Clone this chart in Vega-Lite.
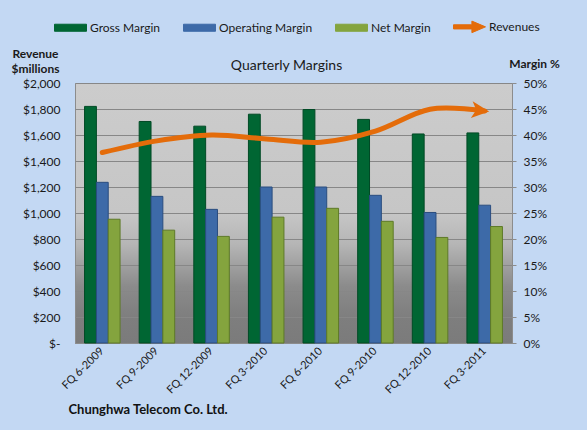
{
  "$schema": "https://vega.github.io/schema/vega-lite/v6.json",
  "width": 437,
  "height": 260,
  "autosize": {"type": "none"},
  "padding": {"left": 75, "top": 83, "right": 75, "bottom": 87},
  "background": "#c3d8f3",
  "config": {
    "font": "Lato",
    "view": {
      "stroke": "#8c8c8c",
      "strokeWidth": 1,
      "fill": {
        "gradient": "linear", "x1": 0, "y1": 0, "x2": 0, "y2": 1,
        "stops": [
          {"offset": 0, "color": "#cccccc"},
          {"offset": 0.5, "color": "#c6c6c6"},
          {"offset": 0.62, "color": "#b5b5b5"},
          {"offset": 0.78, "color": "#8b8b8b"},
          {"offset": 0.9, "color": "#7e7e7e"},
          {"offset": 1, "color": "#7b7b7b"}
        ]
      }
    },
    "axis": {
      "labelFont": "Lato",
      "labelColor": "#1a1a1a",
      "titleFont": "Lato",
      "titleColor": "#1a1a1a",
      "domainColor": "#8c8c8c",
      "tickColor": "#8c8c8c"
    }
  },
  "data": {
    "values": [
      {"quarter": "FQ 6-2009", "Gross Margin": 45.5, "Operating Margin": 30.9, "Net Margin": 23.8, "revenue": 1465},
      {"quarter": "FQ 9-2009", "Gross Margin": 42.6, "Operating Margin": 28.2, "Net Margin": 21.7, "revenue": 1555},
      {"quarter": "FQ 12-2009", "Gross Margin": 41.7, "Operating Margin": 25.7, "Net Margin": 20.5, "revenue": 1600},
      {"quarter": "FQ 3-2010", "Gross Margin": 44.0, "Operating Margin": 30.0, "Net Margin": 24.2, "revenue": 1570},
      {"quarter": "FQ 6-2010", "Gross Margin": 44.9, "Operating Margin": 30.0, "Net Margin": 25.9, "revenue": 1545},
      {"quarter": "FQ 9-2010", "Gross Margin": 43.0, "Operating Margin": 28.4, "Net Margin": 23.4, "revenue": 1630},
      {"quarter": "FQ 12-2010", "Gross Margin": 40.2, "Operating Margin": 25.1, "Net Margin": 20.3, "revenue": 1798},
      {"quarter": "FQ 3-2011", "Gross Margin": 40.4, "Operating Margin": 26.5, "Net Margin": 22.4, "revenue": 1785}
    ]
  },
  "layer": [
    {
      "transform": [{"fold": ["Gross Margin", "Operating Margin", "Net Margin"], "as": ["series", "margin"]}],
      "mark": {"type": "bar", "strokeWidth": 1},
      "encoding": {
        "x": {
          "field": "quarter", "type": "nominal", "sort": null,
          "scale": {"paddingInner": 0.35, "paddingOuter": 0.175},
          "axis": {
            "orient": "bottom", "labelAngle": -45, "labelAlign": "right", "labelBaseline": "middle",
            "labelFontSize": 11, "labelPadding": 6, "ticks": false, "domain": true,
            "title": "Chunghwa Telecom Co. Ltd.", "titleFontSize": 13, "titleFontWeight": "bold",
            "titleAngle": 0, "titleAlign": "left", "titleBaseline": "alphabetic",
            "titleX": -7, "titleY": 70, "titleColor": "#111111"
          }
        },
        "xOffset": {"field": "series", "type": "nominal", "sort": ["Gross Margin", "Operating Margin", "Net Margin"], "scale": {"paddingInner": 0, "paddingOuter": 0}},
        "y": {
          "field": "margin", "type": "quantitative",
          "scale": {"domain": [0, 50], "nice": false},
          "axis": {
            "orient": "right", "values": [0, 5, 10, 15, 20, 25, 30, 35, 40, 45, 50],
            "labelExpr": "datum.value + '%'", "labelFontSize": 12, "grid": false,
            "ticks": true, "tickSize": 4, "labelPadding": 7, "domain": true,
            "title": "Margin %", "titleFontSize": 12, "titleFontWeight": "bold",
            "titleAngle": 0, "titleAlign": "center", "titleBaseline": "alphabetic",
            "titleX": 22, "titleY": -16
          }
        },
        "color": {
          "field": "series", "type": "nominal",
          "scale": {
            "domain": ["Gross Margin", "Operating Margin", "Net Margin", "Revenues"],
            "range": ["#006633", "#3d6aa8", "#84a43e", "#e46c0a"]
          },
          "legend": {
            "orient": "none", "legendX": -21, "legendY": -73, "direction": "horizontal",
            "title": null, "symbolSize": 1024, "labelFont": "Lato", "labelFontSize": 12,
            "labelColor": "#1a1a1a", "labelOffset": 3, "columnPadding": 20,
            "encode": {
              "symbols": {
                "update": {
                  "shape": {"signal": "datum.value === 'Revenues' ? 'M-1,-0.13H0.15V-0.36L1,0L0.15,0.36V0.13H-1Z' : 'M-1,-0.22H1V0.22H-1Z'"},
                  "fill": {"signal": "datum.value === 'Gross Margin' ? '#006633' : datum.value === 'Operating Margin' ? '#3d6aa8' : datum.value === 'Net Margin' ? '#84a43e' : '#e46c0a'"},
                  "stroke": {"signal": "datum.value === 'Gross Margin' ? '#004a25' : datum.value === 'Operating Margin' ? '#2a4d7f' : datum.value === 'Net Margin' ? '#5e7a28' : '#e46c0a'"},
                  "strokeWidth": {"value": 1},
                  "opacity": {"value": 1},
                  "fillOpacity": {"value": 1}
                }
              }
            }
          }
        },
        "stroke": {
          "field": "series", "type": "nominal",
          "scale": {
            "domain": ["Gross Margin", "Operating Margin", "Net Margin"],
            "range": ["#004a25", "#2a4d7f", "#5e7a28"]
          },
          "legend": null
        }
      }
    },
    {
      "encoding": {
        "x": {
          "field": "quarter", "type": "nominal", "sort": null,
          "axis": {
            "orient": "top", "labels": false, "ticks": false, "domain": false, "grid": false,
            "title": "Quarterly Margins", "titleFontSize": 14, "titleFontWeight": "normal",
            "titleAngle": 0, "titleAlign": "center", "titleBaseline": "alphabetic",
            "titleX": 211, "titleY": -14, "titleColor": "#1a1a1a"
          }
        },
        "y": {
          "field": "revenue", "type": "quantitative",
          "scale": {"domain": [0, 2000], "nice": false},
          "axis": {
            "orient": "left", "values": [0, 200, 400, 600, 800, 1000, 1200, 1400, 1600, 1800, 2000],
            "labelExpr": "datum.value === 0 ? '$-' : '$' + format(datum.value, ',')",
            "labelFontSize": 12, "ticks": false, "labelPadding": 15, "domain": false,
            "grid": true, "gridColor": "#878787", "gridWidth": 1, "gridOpacity": 1,
            "title": ["Revenue", "$millions"], "titleFontSize": 12, "titleFontWeight": "bold",
            "titleAngle": 0, "titleAlign": "center", "titleBaseline": "alphabetic",
            "titleLineHeight": 15, "titleX": -40, "titleY": -26
          }
        }
      },
      "layer": [
        {
          "mark": {"type": "line", "interpolate": "cardinal", "strokeWidth": 5, "strokeCap": "round"},
          "encoding": {"color": {"datum": "Revenues"}}
        },
        {
          "transform": [{"filter": "datum.quarter === 'FQ 3-2011'"}],
          "mark": {"type": "point", "filled": true, "opacity": 1, "size": 400, "angle": 6, "shape": "M0.45,0L-1.3,-0.85L-0.85,0L-1.3,0.85Z", "color": "#e46c0a"}
        }
      ]
    }
  ],
  "resolve": {"scale": {"y": "independent"}, "axis": {"x": "independent"}}
}
